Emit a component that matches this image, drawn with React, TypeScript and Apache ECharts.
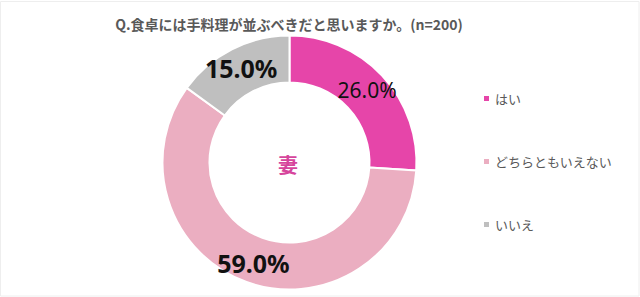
import React, { useEffect, useRef } from "react";
import * as echarts from "echarts";

const titleText = "Q.食卓には手料理が並ぶべきだと思いますか。(n=200)";
const categories = ["はい", "どちらともいえない", "いいえ"];
const values = [26.0, 59.0, 15.0];
const colors = ["#E645A9", "#EBAEC1", "#BFBFBF"];
const centerLabel = "妻";

const FONT = "'Noto Sans CJK JP', 'Noto Sans', sans-serif";
const NUMFONT = "'Noto Sans', 'Noto Sans CJK JP', sans-serif";

export default function App() {
  const ref = useRef<HTMLDivElement>(null);
  useEffect(() => {
    document.body.style.margin = "0";
    if (!ref.current) return;
    const chart = echarts.init(ref.current, undefined, { renderer: "svg" });
    const labelStyles = [
      { fontSize: 21, fontWeight: "normal" as const },
      { fontSize: 25, fontWeight: "bold" as const },
      { fontSize: 25, fontWeight: "bold" as const },
    ];
    chart.setOption({
      animation: false,
      backgroundColor: "#ffffff",
      title: {
        text: titleText,
        left: 284,
        top: 12,
        textAlign: "center",
        textStyle: { fontFamily: FONT, fontSize: 14, fontWeight: "bold", color: "#595959" },
      },
      legend: {
        orient: "vertical",
        left: 477,
        top: 87,
        itemWidth: 7,
        itemHeight: 7,
        itemGap: 50,
        icon: "rect",
        data: categories,
        textStyle: { fontFamily: FONT, fontSize: 13, color: "#595959", lineHeight: 13 },
      },
      graphic: [
        {
          type: "rect",
          shape: { x: 0.5, y: 1.5, width: 638.5, height: 294.5 },
          style: { fill: "none", stroke: "#eeeeee", lineWidth: 1 },
          silent: true,
        },
        {
          type: "text",
          x: 288,
          y: 164,
          style: {
            text: centerLabel,
            fontFamily: FONT,
            fontSize: 20,
            fontWeight: "bold",
            fill: "#D6459C",
            align: "center",
            verticalAlign: "middle",
          },
        },
      ],
      series: [
        {
          type: "pie",
          center: [289.5, 162.5],
          radius: [80, 127],
          startAngle: 90,
          clockwise: true,
          avoidLabelOverlap: false,
          itemStyle: { borderColor: "#ffffff", borderWidth: 2 },
          label: {
            show: true,
            position: "inside",
            fontFamily: NUMFONT,
            color: "#111111",
            formatter: (p: any) => p.value.toFixed(1) + "%",
          },
          labelLine: { show: false },
          emphasis: { disabled: true },
          data: categories.map((name, i) => ({
            name,
            value: values[i],
            itemStyle: { color: colors[i] },
            label: labelStyles[i],
          })),
        },
      ],
    });
    return () => chart.dispose();
  }, []);
  return <div ref={ref} style={{ width: 640, height: 297 }} />;
}
